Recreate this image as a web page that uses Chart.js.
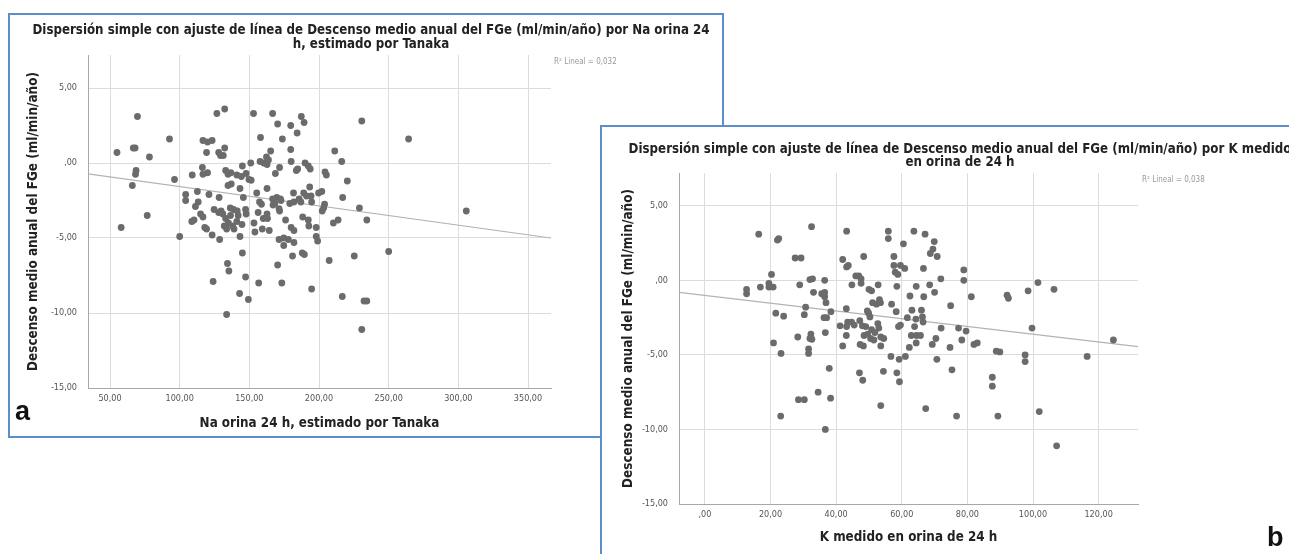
<!DOCTYPE html>
<html>
<head>
<meta charset="utf-8">
<script src="https://cdn.jsdelivr.net/npm/chart.js@4.4.0/dist/chart.umd.min.js"></script>
<style>
body{margin:0;width:1289px;height:554px;overflow:hidden;background:#fff;position:relative;
  font-family:'Liberation Sans Narrow','DejaVu Sans Condensed',sans-serif}
.panel{position:absolute;box-sizing:border-box;border:2px solid #5b8fcc;background:#fff}
#pa{left:8px;top:13px;width:716px;height:425px}
#pb{left:600px;top:125px;width:720px;height:460px}
.panel canvas{position:absolute;left:0;top:0}
.ttl{position:absolute;text-align:center;font-weight:bold;font-size:13.2px;color:#222;white-space:nowrap}
.r2{position:absolute;font-size:8px;color:#999;white-space:nowrap;line-height:10px}
.lbl{position:absolute;font-weight:bold;font-size:27px;line-height:30px;color:#111;font-family:'Liberation Sans','DejaVu Sans',sans-serif}
</style>
</head>
<body>
<div class="panel" id="pa">
  <canvas id="chartA" width="712" height="421"></canvas>
  <div class="ttl" style="left:-39px;top:8px;width:800px;line-height:14px">Dispersión simple con ajuste de línea de Descenso medio anual del FGe (ml/min/año) por Na orina 24<br>h, estimado por Tanaka</div>
  <div class="r2" style="left:544px;top:42px">R² Lineal = 0,032</div>
  <div class="lbl" style="left:5px;top:381px">a</div>
</div>
<div class="panel" id="pb">
  <canvas id="chartB" width="687" height="427"></canvas>
  <div class="ttl" style="left:-42px;top:15px;width:800px;line-height:13px">Dispersión simple con ajuste de línea de Descenso medio anual del FGe (ml/min/año) por K medido<br>en orina de 24 h</div>
  <div class="r2" style="left:540px;top:48px">R² Lineal = 0,038</div>
  <div class="lbl" style="left:665px;top:395px">b</div>
</div>
<script>
// panel a: Na orina 24 h (x) vs descenso FGe (y)
var naX = [69.7,132.3,126.7,153,166.7,230.7,187.3,189.3,170.3,179.7,184.3,158,173.7,92.7,264.3,116.7,120,123.3,66.7,68,
  132.3,119.3,55,128,129.3,131.3,179.7,165.3,211.3,78.3,162.3,163.7,216.3,151,157.7,160.3,162.7,180,190,192.3,
  193.7,68.7,68.3,66,96.3,109,116.7,120,116.3,133,134.7,136.7,145,147.7,149.7,151.3,141,144.3,168.7,171.7,
  184.7,183.7,204.3,205.3,220.3,137,134.7,143.3,162.7,155.3,193.3,169.7,172.3,172.7,181.7,189,191,194.3,199.7,202,
  217,104.3,104.3,112.7,121,113.3,111.3,128.3,145.7,157.3,158.7,166.7,168.3,179,182,185.7,187,194.7,204,203.3,
  202.3,229,147.3,124.7,128,129.7,131,136.3,138.7,141.3,133,135,138,141,142,136.5,132,139,171.3,171.7,
  176,188.3,192.3,192.7,198,210.3,213.7,234.3,110.3,108.7,118,119.3,123.3,128.7,133.7,143.3,153.3,154,159.3,164.3,
  160,163,171.3,174.7,178,174.7,182,180,182,198,199,145,181,188,189.5,207.3,225.3,250,305.7,58,
  76.7,100,170.3,134.3,135.3,147.3,124,156.7,173.3,194.7,143,149.3,216.7,232.3,234.3,133.7,230.7,115,116.7,156.3,
  162.7,144.7,147.7,167];
var naY = [3.1,3.6,3.3,3.3,3.3,2.8,3.1,2.7,2.6,2.5,2.0,1.7,1.6,1.6,1.6,1.5,1.4,1.5,1.0,1.0,
  1.0,0.7,0.7,0.7,0.5,0.5,0.9,0.8,0.8,0.4,0.4,0.2,0.1,0.0,0.1,0.0,-0.1,0.1,0.0,-0.2,
  -0.4,-0.5,-0.75,-1.5,-1.1,-0.8,-0.75,-0.65,-0.3,-0.5,-0.75,-0.65,-0.2,-0.7,-1.1,-1.15,-0.8,-0.9,-0.7,-0.3,
  -0.4,-0.5,-0.6,-0.8,-1.2,-1.4,-1.5,-1.7,-1.7,-2.0,-1.6,-2.3,-2.4,-2.5,-2.0,-2.0,-2.2,-2.2,-2.0,-1.9,
  -2.3,-2.1,-2.5,-1.9,-2.1,-2.6,-2.9,-2.3,-2.3,-2.6,-2.75,-2.4,-2.7,-2.7,-2.6,-2.4,-2.6,-2.6,-2.75,-3.0,
  -3.2,-3.0,-3.1,-3.1,-3.3,-3.2,-3.4,-3.0,-3.1,-3.2,-3.7,-4.0,-4.2,-3.9,-3.5,-3.5,-4.2,-4.4,-3.05,-3.2,
  -3.8,-3.6,-3.8,-4.2,-4.3,-4.0,-3.8,-3.8,-3.8,-3.9,-4.3,-4.4,-4.8,-5.1,-4.4,-4.9,-4.0,-4.6,-4.4,-4.5,
  -3.7,-3.7,-5.1,-5.0,-5.1,-5.5,-5.3,-4.3,-4.5,-4.9,-5.2,-6.0,-6.2,-6.0,-6.1,-6.5,-6.2,-5.9,-3.2,-4.3,
  -3.5,-4.9,-6.8,-6.7,-7.2,-7.6,-7.9,-8.0,-8.0,-8.4,-8.7,-9.1,-8.9,-9.2,-9.2,-10.1,-11.1,-3.4,-3.6,-3.3,
  -3.4,-4.1,-3.4,-2.8];
var fitAX = [34.2, 366.5];
var fitAY = [-0.73, -5.0];

// panel b: K medido en orina de 24 h (x) vs descenso FGe (y)
var kX = [16.4,22.1,22.5,32.5,43.2,55.9,55.9,63.7,67.1,69.9,69.5,68.7,70.8,60.5,27.5,29.3,48.4,42,43.2,43.7,
  57.6,57.6,58,59.6,60.9,58.8,66.6,78.9,78.9,20.3,19.5,19.5,20.8,16.9,12.7,12.7,28.9,32,32.8,36.5,
  46,46.9,47.6,44.8,47.6,50,50.8,52.8,58.5,64.4,68.5,70,71.9,81.2,92.1,92.5,98.5,101.5,106.4,33.1,
  35.6,36.5,36.5,36.9,36.3,37.1,38.4,30.7,30.3,21.6,24,20.9,23.2,28.3,32.3,32,32.6,31.6,31.6,36.7,
  41.2,43.1,43.5,43.2,42,43.1,44.7,47.2,48,49,47.3,48.3,49.5,49.9,48.5,49.6,50.3,51.1,52.3,53.2,
  53.5,50.5,51.5,52.7,53,53.6,53.6,54.4,53.6,47.1,48.1,37.9,34.5,38.3,28.5,30.3,23.1,36.7,56.9,58.3,
  59,59.6,61.7,62.3,61.1,59.2,56.7,58.5,59.3,62.5,63.1,64.3,63.9,64.5,62.9,65.7,64.4,66,66.3,66.5,
  66.7,69.3,70.4,70.7,72,74.9,74.7,75.3,77.3,78.3,79.6,82,83,76.7,67.3,87.6,87.6,88.8,89.9,89.3,
  97.6,97.6,99.7,101.9,107.2,116.5,124.5,54.5,45.5,50.8,51.8];
var kY = [3.1,2.7,2.8,3.6,3.3,3.3,2.8,3.3,3.1,2.6,2.1,1.8,1.6,2.45,1.5,1.5,1.6,1.4,0.9,1.0,
  1.6,1.0,0.55,1.0,0.8,0.4,0.8,0.7,0.0,0.4,-0.2,-0.45,-0.45,-0.45,-0.6,-0.9,-0.3,0.05,0.1,0.0,
  0.3,0.3,0.1,-0.3,-0.2,-0.6,-0.7,-0.3,-0.4,-0.4,-0.3,-0.8,0.1,-1.1,-1.0,-1.2,-0.7,-0.15,-0.6,-0.8,
  -0.9,-0.8,-1.1,-1.5,-2.5,-2.5,-2.1,-1.8,-2.3,-2.2,-2.4,-4.2,-4.9,-3.8,-3.6,-3.9,-3.95,-4.6,-4.9,-3.5,
  -3.05,-1.9,-2.8,-3.1,-4.4,-3.7,-2.8,-2.7,-3.05,-3.1,-4.3,-4.4,-2.05,-2.2,-3.7,-3.6,-2.45,-1.5,-1.6,-1.3,
  -1.5,-3.9,-4.0,-2.9,-3.2,-3.8,-4.4,-6.1,-8.4,-6.2,-6.7,-5.9,-7.5,-7.9,-8.0,-8.0,-9.1,-10.0,-1.6,-2.1,
  -3.1,-3.0,-2.5,-4.5,-5.1,-5.3,-5.1,-6.2,-6.8,-1.05,-2.0,-2.6,-3.1,-3.7,-3.7,-3.7,-4.2,-2.0,-2.45,-2.8,
  -1.1,-4.3,-3.9,-5.3,-3.2,-1.7,-4.5,-6.0,-3.2,-4.0,-3.4,-4.3,-4.2,-9.1,-8.6,-6.5,-7.1,-4.75,-4.8,-9.1,
  -5.0,-5.45,-3.2,-8.8,-11.1,-5.1,-4.0,-3.9,-3.0,-3.3,-3.5];
var fitBX = [-7.9, 132];
var fitBY = [-0.8, -4.45];

var yTicks = [-15, -10, -5, 0, 5];
var naTicks = [50, 100, 150, 200, 250, 300, 350];
var kTicks = [0, 20, 40, 60, 80, 100, 120];

var FONT = "'Liberation Sans Narrow','DejaVu Sans Condensed',sans-serif";
var yTitle = 'Descenso medio anual del FGe (ml/min/año)';

function fmt(v) {
    var s = Number(v).toFixed(2).replace('.', ',');
    if (s.indexOf('0,') === 0) s = s.slice(1);
    return s;
}

function makeChart(id, xs, ys, fx, fy, xTicks, xMin, xMax, xTitle, cfg) {
    var pts = xs.map(function (x, i) { return {x: x, y: ys[i]}; });
    var fit = fx.map(function (x, i) { return {x: x, y: fy[i]}; });
    var ctx = document.getElementById(id).getContext('2d');
    return new Chart(ctx, {
        type: 'scatter',
        data: {
            datasets: [{
                data: pts,
                pointRadius: 3.4,
                pointBackgroundColor: '#6b6b6b',
                pointBorderWidth: 0,
                order: 1
            }, {
                data: fit,
                showLine: true,
                pointRadius: 0,
                borderColor: '#b3b3b3',
                borderWidth: 1.2,
                order: 2
            }]
        },
        options: {
            responsive: false,
            animation: false,
            events: [],
            layout: {padding: {top: cfg.top, right: cfg.right, bottom: 0, left: 0}},
            plugins: {legend: {display: false}, tooltip: {enabled: false}},
            scales: {
                x: {
                    type: 'linear', min: xMin, max: xMax,
                    afterBuildTicks: function (s) { s.ticks = xTicks.map(function (v) { return {value: v}; }); },
                    afterFit: function (s) { s.height = cfg.xh; },
                    grid: {color: '#dcdcdc', drawTicks: false},
                    border: {color: '#a8a8a8'},
                    ticks: {padding: 5, autoSkip: false, maxRotation: 0, color: '#555',
                        font: {family: FONT, size: 9}, callback: fmt},
                    title: {display: true, text: xTitle, color: '#222',
                        font: {family: FONT, size: 13.3, weight: 'bold'}, padding: {top: 0, bottom: cfg.xtp}}
                },
                y: {
                    min: -15, max: 7.2,
                    afterBuildTicks: function (s) { s.ticks = yTicks.map(function (v) { return {value: v}; }); },
                    afterFit: function (s) { s.width = cfg.yw; },
                    grid: {color: '#dcdcdc', drawTicks: false},
                    border: {color: '#a8a8a8'},
                    ticks: {padding: 11, color: '#555', font: {family: FONT, size: 9}, callback: fmt},
                    title: {display: true, text: yTitle, color: '#222',
                        font: {family: FONT, size: 13.4, weight: 'bold'}, padding: {top: cfg.ytp, bottom: 0}}
                }
            }
        }
    });
}

makeChart('chartA', naX, naY, fitAX, fitAY, naTicks, 34.2, 366.5, 'Na orina 24 h, estimado por Tanaka',
    {top: 40, right: 171, xh: 48, yw: 78, xtp: 4, ytp: 15});
makeChart('chartB', kX, kY, fitBX, fitBY, kTicks, -7.9, 132, 'K medido en orina de 24 h',
    {top: 46, right: 151, xh: 50, yw: 77, xtp: 8, ytp: 18});
</script>
</body>
</html>
